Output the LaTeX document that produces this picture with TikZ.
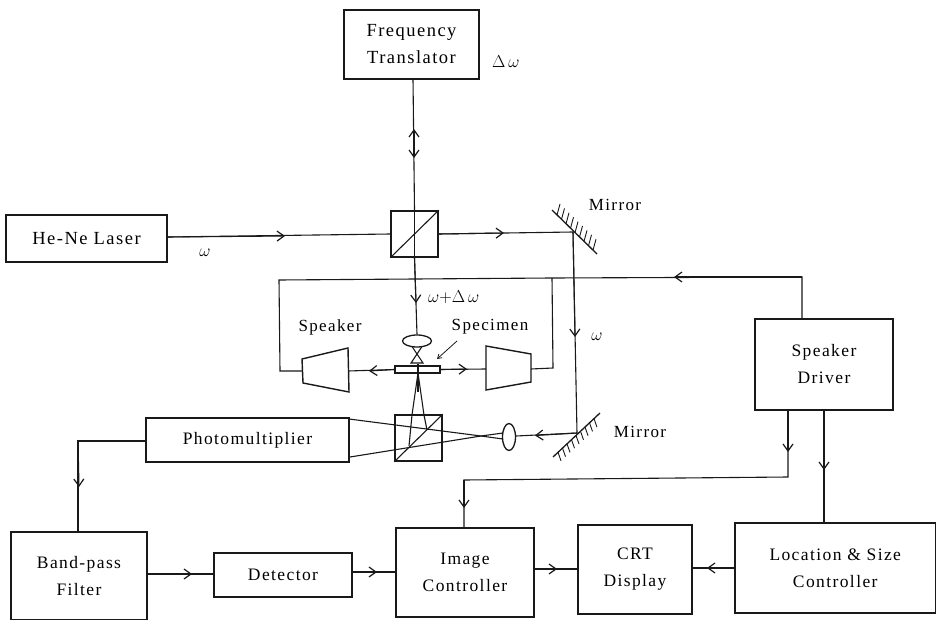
\documentclass[tikz,border=0pt]{standalone}
\usepackage{fontspec}
\setmainfont[LetterSpace=8]{Liberation Serif}
\usetikzlibrary{arrows.meta,shapes.geometric}
\tikzset{
 x=1pt,y=-1pt,
 boxn/.style={draw=black!90,line width=1.5pt,fill=white,inner sep=0pt,align=center,font=\fontsize{17.5}{27}\selectfont},
 boxt/.style={boxn,font=\fontsize{18.5}{27}\selectfont},
 lab/.style={inner sep=0pt,font=\fontsize{17}{20}\selectfont},
 wire/.style={draw=black!90,line width=1.1pt},
 tip/.style={-{Straight Barb[length=7pt,width=10pt,line width=1.2pt]}},
 hatch/.style={draw=black!90,line width=.9pt},
 lens/.style={draw=black!90,line width=1.3pt,ellipse,inner sep=0pt,fill=white},
}
\newcommand{\mybox}[6][boxn]{\node[#1,minimum width=#4*1pt-#2*1pt,minimum height=#5*1pt-#3*1pt] (#6) at ({(#2+#4)/2},{(#3+#5)/2})}
\begin{document}
\begin{tikzpicture}
\useasboundingbox (0,0) rectangle (936,620);
\mybox[boxt]{344}{10}{479}{79}{ft} {Frequency\\Translator};
\mybox[boxt]{6}{215}{167}{262}{laser} {He-Ne Laser};
\mybox{146}{418}{349}{462}{pm} {Photomultiplier};
\mybox{11}{532}{147}{619.5}{bpf} {Band-pass\\Filter};
\mybox{214}{553}{352}{597}{det} {Detector};
\mybox{396}{528}{534}{617}{ic} {Image\\Controller};
\mybox{578}{525}{692}{614}{crt} {CRT\\Display};
\mybox{735}{523}{935.5}{613}{lsc} {Location \& Size\\Controller};
\mybox{755}{319}{893}{410}{sd} {Speaker\\Driver};
\mybox{391}{211}{438}{257}{bs1} {};
\mybox{395}{415}{442}{461}{bs2} {};
\mybox{395}{366}{440}{373}{spec} {};
\node[lens,minimum width=29pt,minimum height=12pt] (l1) at (417,341) {};
\node[lens,minimum width=13pt,minimum height=27pt] (l2) at (509,437) {};
% coordinates
\coordinate (m1) at (573,232);
\coordinate (m2) at (577,433);
\coordinate (t1) at (802,277);
\coordinate (t2) at (552,278);
\coordinate (t3) at (279,280);
% Frequency translator link
\draw[wire] (413,79) -- (bs1.north);
\draw[wire,tip] (414,140) -- (414,158);
\draw[wire,tip] (414,145) -- (414,129);
% laser and beams
\draw[wire] (laser.east |- 0,237) -- (bs1.west);
\draw[wire,tip] (laser.east |- 0,237) -- (285,236);
\draw[wire] (bs1.east) -- (m1);
\draw[wire,tip] (bs1.east) -- (504,233);
\draw[wire] (bs1.north) -- (bs1.south);
\draw[wire] (bs1.north east) -- (bs1.south west);
\draw[wire] (bs1.south) -- (l1.north);
\draw[wire,tip] (bs1.south) -- (416,303);
\draw[wire] (m1) -- (m2);
\draw[wire,tip] (m1) -- (575,337);
% mirrors
\draw[wire,line width=1.3pt] (552,210) -- (597,254);
\foreach \a/\b in {557/215,561.5/219.4,566/223.8,570.5/228.2,575/232.6,579.5/237,584/241.4,588.5/245.8,593/250.2}
  \draw[hatch] (\a,\b) -- ++(3,-11);
\draw[wire,line width=1.3pt] (553,457) -- (600,413);
\foreach \a/\b in {558/452.3,562.5/448.1,567/443.9,571.5/439.7,576/435.5,580.5/431.3,585/427.1,589.5/422.9,594/418.7}
  \draw[hatch] (\a,\b) -- ++(3,8.5);
% speakers
\draw[wire,line width=1.4pt] (302,359) -- (348,348) -- (349,392) -- (303,383) -- cycle;
\draw[wire,line width=1.4pt] (486,346) -- (531,354) -- (531,382) -- (486,390) -- cycle;
\coordinate (sl) at (302,371);
\coordinate (sr) at (486,369);
\draw[wire] (spec.west) -- (348.5,371);
\draw[wire,tip] (spec.west) -- (369,371);
\draw[wire] (spec.east) -- (sr);
\draw[wire,tip] (spec.east) -- (467,369);
\draw[wire] (531,369) -- (553,368) -- (t2);
\draw[wire] (sl) -- (280,371) -- (t3) -- (t2) -- (t1) -- (t1 |- sd.north);
\draw[wire,tip] (t1) -- (674,277);
% specimen details
\draw[wire] (412,346.5) -- (423,363) -- (411,363) -- (422,346.5);
\draw[wire,line width=2pt] (417.5,364) -- (417.5,376);
\draw[wire,line width=.8pt,-{Straight Barb[length=4pt,width=5pt,line width=.8pt]}] (457,341) -- (437,359);
% imaging rays
\draw[wire] (418,373) -- (412,415) -- (409,446);
\draw[wire] (418,373) -- (424,415) -- (427,430);
\draw[wire,line width=1.6pt] (418,373) -- (418,392);
\draw[wire] (bs2.north east) -- (bs2.south west);
\draw[wire] (349,419) -- (481,436) -- (503,439);
\draw[wire] (350,457) -- (481,436) -- (503,433);
\draw[wire] (l2.east |- 0,436) -- (m2);
\draw[wire,tip] (m2) -- (535,435.5);
% electronic
\draw[wire] (pm.west |- 0,441) -- (78,441) -- (78,532);
\draw[wire,tip] (78,441) -- (79,487);
\draw[wire] (147,574) -- (det.west |- 0,574);
\draw[wire,tip] (147,574) -- (192,574);
\draw[wire] (352,572) -- (396,572);
\draw[wire,tip] (352,572) -- (377,572);
\draw[wire] (534,569) -- (578,569);
\draw[wire,tip] (534,569) -- (557,569);
\draw[wire] (735,568) -- (692,568);
\draw[wire,tip] (735,568) -- (707,568);
\draw[wire] (788,410) -- (788,477) -- (464,480) -- (464,528);
\draw[wire,tip] (788,410) -- (788,452);
\draw[wire,tip] (464,480) -- (464,508);
\draw[wire] (824,410) -- (824,523);
\draw[wire,tip] (824,410) -- (824,470);
% labels
\node[lab,anchor=west] (ldw) at (492,62) {$\Delta\,\omega$};
\node[lab] (lom1) at (205,253) {$\omega$};
\node[lab] (lmir1) at (615,205) {Mirror};
\node[lab,anchor=west] (lopl) at (428,297) {$\omega{+}\Delta\,\omega$};
\node[lab] (lom2) at (597,337) {$\omega$};
\node[lab] (lspk) at (330,327) {Speaker};
\node[lab] (lspc) at (490,327) {Specimen};
\node[lab] (lmir2) at (640,432) {Mirror};
\end{tikzpicture}
\end{document}
